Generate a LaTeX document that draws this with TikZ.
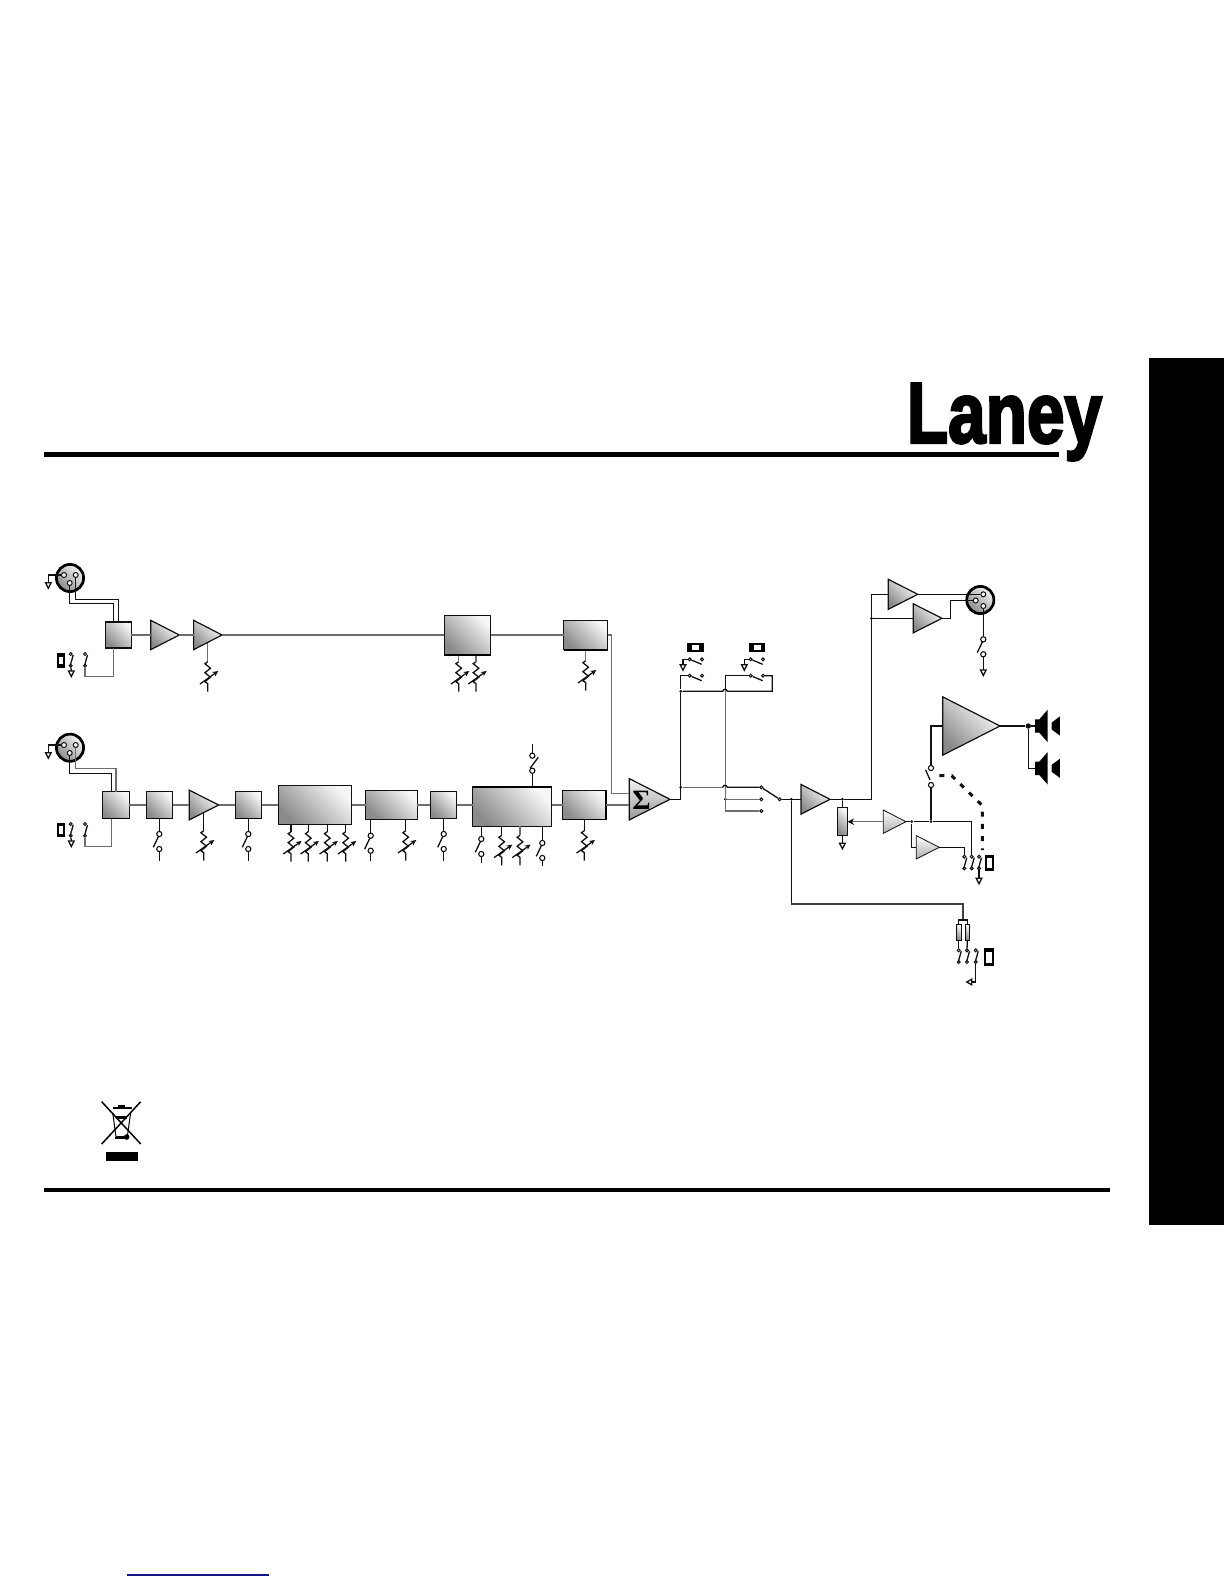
\documentclass[tikz,border=0pt]{standalone}
\usepackage{xcolor}
\usepackage{fontspec}
\newfontfamily\logofont[FakeBold=3.2]{Liberation Sans Bold}
\newfontfamily\signfont{Liberation Serif Bold}
\definecolor{cWire}{HTML}{111111}
\definecolor{cSoft}{HTML}{6E6E6E}
\definecolor{cLight}{HTML}{F6F6F6}
\definecolor{cDark}{HTML}{8A8A8A}
\definecolor{cLink}{HTML}{14148C}
\usetikzlibrary{arrows.meta,shapes.geometric,backgrounds}
\tikzset{
  wire/.style={draw=cWire,line width=.65pt},
  wire-soft/.style={draw=cSoft,line width=.7pt},
  wire-bus/.style={draw=cSoft,line width=.95pt},
  wire-link/.style={draw=cWire,line width=1.5pt,dash pattern=on 2.5pt off 3.6pt},
  node-box/.style 2 args={draw=cWire,line width=.6pt,rectangle,inner sep=0,outer sep=0,
    minimum width=#1*.5pt,minimum height=#2*.5pt,
    bottom color=cDark,top color=cLight,shading angle=-45},
  node-amp/.style 2 args={draw=cWire,line width=.6pt,isosceles triangle,
    isosceles triangle stretches,shape border rotate=0,inner sep=0,outer sep=0,anchor=apex,
    minimum height=#1*.5pt,minimum width=#2*.5pt,
    bottom color=cDark,top color=white,shading angle=-45},
  node-xlr/.style={draw=black,line width=1.35pt,circle,inner sep=0,minimum size=13.6pt,
    bottom color=cDark,top color=cLight,shading angle=-45},
  node-pin/.style={draw=cWire,line width=.5pt,circle,inner sep=0,minimum size=2.5pt,fill=cLight},
  node-tip/.style={draw=cWire,line width=.5pt,circle,inner sep=0,minimum size=1.5pt,fill=white},
  node-post/.style={draw=cWire,line width=.55pt,circle,inner sep=0,minimum size=2.6pt,fill=white},
  node-dot/.style={fill=cWire,circle,inner sep=0,minimum size=1.5pt},
  potsym/.pic={
    \coordinate (-top) at (0,0);
    \draw[wire] (0,0) -- (-2.8,2) -- (2.8,6.5) -- (-2.8,11) -- (2.8,15.5) -- (-2.8,20) -- (0,22) -- (0,30);
    \draw[wire,-{Stealth[length=2.8pt,width=2.6pt]}] (-7.7,22.3) -- (10.6,9.3);
  },
  swv/.pic={
    \node[node-post] (-a) at (0,0) {};
    \node[node-post] (-b) at (0,15) {};
    \draw[wire] (-6,13.3) -- (-1,2.7);
    \coordinate (-end) at (0,#1);
    \draw[wire] (-b) -- (-end);
  },
  tsw/.pic={
    \node[node-tip] (-a) at (0,0) {};
    \node[node-tip] (-b) at (0,11.7) {};
    \draw[wire] (2.5,1) -- (-.5,11.7);
  },
  hsw/.pic={
    \node[node-tip] (-a) at (0,0) {};
    \node[node-tip] (-b) at (12.3,0) {};
    \draw[wire] (-a) -- (12,5);
  },
  gnd/.pic={
    \coordinate (-top) at (0,0);
    \draw[wire,fill=white] (-2.8,0) -- (2.8,0) -- (0,5.5) -- cycle;
  },
  gndl/.pic={
    \coordinate (-top) at (0,0);
    \draw[wire,fill=white] (0,-2.8) -- (0,2.8) -- (-5,0) -- cycle;
  },
  speaker/.pic={
    \coordinate (-in) at (0,0);
    \fill[black] (0,-6.7) -- (4.3,-6.7) -- (12.7,-16.3) -- (12.7,16.3) -- (4.3,6.7) -- (0,6.7) -- cycle;
    \fill[black] (16.7,-3.5) -- (24.8,-9.5) -- (24.8,9.5) -- (16.7,3.5) -- cycle;
  },
}
\begin{document}
\begin{tikzpicture}[x=.5pt,y=-.5pt]
  \useasboundingbox (0,0) rectangle (1224,1584);
  % page furniture
  \fill[black] (1149,357.5) rectangle (1224,1225);
  \fill[black] (44,452.4) rectangle (1059,457);
  \fill[black] (44,1188) rectangle (1110,1192);
  \node[inner sep=0,anchor=base west] (brand) at (906.5,442.7) {\scalebox{.785}[1]{\logofont\fontsize{43}{43}\selectfont Laney}};
  \draw[draw=cLink,line width=.55pt] (127,1575) -- (269,1575);

  % first channel
  \node[node-xlr] (xa) at (70,578) {};
  \node[node-pin] (xa1) at (64,575) {};
  \node[node-pin] (xa2) at (69.7,583) {};
  \node[node-pin] (xa3) at (75.7,575) {};
  \node[node-box={25.6}{26}] (ina) at (118.5,635) {};
  \node[node-amp={28.6}{29.4}] (ampa1) at (179.3,635) {};
  \node[node-amp={28.4}{29.4}] (ampa2) at (222,635) {};
  \node[node-box={46.4}{39.7}] (eqa) at (467.5,635) {};
  \node[node-box={44}{29.7}] (mas) at (585.7,635) {};
  \pic (gxa) at (48.3,582.7) {gnd};
  \pic (swa1) at (70.7,654) {tsw};
  \pic (swa2) at (85,654) {tsw};
  \pic (gsa) at (71.3,671) {gnd};
  \pic (pa1) at (207.7,661.7) {potsym};
  \pic (pa2) at (458.7,661.7) {potsym};
  \pic (pa3) at (476,661.7) {potsym};
  \pic (pa4) at (585.7,660.7) {potsym};
  \coordinate (busa1) at (118.3,599.3);
  \coordinate (busa2) at (113.7,603.7);
  \coordinate (cora) at (113.7,676.7);
  \draw[wire] (xa1) -| (gxa-top);
  \draw[wire] (xa3) |- (busa1) -- (ina.north -| busa1);
  \draw[wire] (xa2) |- (busa2) -- (ina.north -| busa2);
  \draw[wire-soft] (ina.south -| cora) -- (cora) -| (swa2-b);
  \draw[wire] (swa1-b) -- (gsa-top);
  \draw[wire-soft] (ina) -- (ampa1.lower side);
  \draw[wire-soft] (ampa1.apex) -- (ampa2.lower side);
  \draw[wire-soft] (ampa2.apex) -- (eqa);
  \draw[wire-soft] (eqa) -- (mas);
  \draw[wire-soft] (eqa.south -| pa2-top) -- (pa2-top);
  \draw[wire-soft] (eqa.south -| pa3-top) -- (pa3-top);
  \draw[wire-soft] (mas.south -| pa4-top) -- (pa4-top);

  % second channel
  \node[node-xlr] (xb) at (70,747.7) {};
  \node[node-pin] (xb1) at (64,745) {};
  \node[node-pin] (xb2) at (69.7,753) {};
  \node[node-pin] (xb3) at (75.7,745) {};
  \node[node-box={27}{27}] (inb) at (115.8,805) {};
  \node[node-box={26.4}{27}] (hpf) at (159.5,805) {};
  \node[node-amp={29.4}{29.7}] (ampb) at (218.7,805) {};
  \node[node-box={26.4}{27}] (ins) at (248.5,805) {};
  \node[node-box={73.4}{39.4}] (eqb) at (315,805) {};
  \node[node-box={51.6}{29}] (cmp) at (391.5,805) {};
  \node[node-box={26.4}{27}] (fxs) at (443.5,805) {};
  \node[node-box={79}{39.6}] (dsp) at (512.2,806.5) {};
  \node[node-box={43.6}{29}] (lev) at (584.5,805) {};
  \pic (gxb) at (48.3,752.7) {gnd};
  \pic (swb1) at (70.7,824) {tsw};
  \pic (swb2) at (85,824) {tsw};
  \pic (gsb) at (71.3,841) {gnd};
  \pic (shp) at (159.3,834) {swv=26.7};
  \pic (sin) at (248.3,834) {swv=26.7};
  \pic (scm) at (370.7,835.7) {swv=25};
  \pic (sfx) at (443.7,834) {swv=26.7};
  \pic (sd1) at (481.3,839) {swv=23.7};
  \pic (sd2) at (542.3,843) {swv=23};
  \pic (pb) at (203.7,830.7) {potsym};
  \foreach \n/\x in {1/291,2/308.3,3/327.3,4/345.7}
    \pic (pe\n) at (\x,831.7) {potsym};
  \pic (pc) at (405.7,830.7) {potsym};
  \pic (pd1) at (501.7,835.3) {potsym};
  \pic (pd2) at (520,835.3) {potsym};
  \pic (pl) at (584.3,830.7) {potsym};
  \node[node-post] (st1) at (532.3,755.7) {};
  \node[node-post] (st2) at (532.3,770.7) {};
  \coordinate (stop) at (532.3,744);
  \coordinate (busb1) at (116,768.7);
  \coordinate (busb2) at (111.7,773.3);
  \coordinate (corb) at (111.3,846.7);
  \draw[wire] (xb1) -| (gxb-top);
  \draw[wire-soft] (xb3) |- (busb1) -- (inb.north -| busb1);
  \draw[wire] (xb2) |- (busb2) -- (inb.north -| busb2);
  \draw[wire-soft] (inb.south -| corb) -- (corb) -| (swb2-b);
  \draw[wire] (swb1-b) -- (gsb-top);
  \draw[wire-soft] (inb) -- (hpf);
  \draw[wire-soft] (hpf) -- (ampb.lower side);
  \draw[wire-soft] (ampb.apex) -- (ins);
  \draw[wire-soft] (ins) -- (eqb);
  \draw[wire-bus] (eqb) -- (cmp);
  \draw[wire-bus] (cmp) -- (fxs);
  \draw[wire-bus] (fxs) -- (fxs -| dsp.west);
  \draw[wire-soft] (dsp.east |- lev) -- (lev);
  \draw[wire] (stop) -- (st1);
  \draw[wire] (st2) -- (dsp.north -| st2);
  \draw[wire] (530,768.3) -- (538.3,757.3);
  \draw[wire] (hpf.south -| shp-a) -- (shp-a);
  \draw[wire] (ins.south -| sin-a) -- (sin-a);
  \draw[wire] (cmp.south -| scm-a) -- (scm-a);
  \draw[wire] (fxs.south -| sfx-a) -- (sfx-a);
  \draw[wire] (dsp.south -| sd1-a) -- (sd1-a);
  \draw[wire] (dsp.south -| sd2-a) -- (sd2-a);
  \foreach \n in {1,2,3,4}
    \draw[wire] (eqb.south -| pe\n-top) -- (pe\n-top);
  \draw[wire] (cmp.south -| pc-top) -- (pc-top);
  \draw[wire] (dsp.south -| pd1-top) -- (pd1-top);
  \draw[wire-soft] (dsp.south -| pd2-top) -- (pd2-top);
  \draw[wire] (lev.south -| pl-top) -- (pl-top);
  \begin{scope}[on background layer]
    \draw[wire-soft] (pa1-top |- ampa2.apex) -- (pa1-top);
    \draw[wire] (pb-top |- ampb.apex) -- (pb-top);
  \end{scope}
  \foreach \b in {inb,hpf,ins,eqa,mas,lev}
    \draw[black,line width=.9pt] (\b.south west) -- (\b.south east);
  \draw[black,line width=.9pt] (lev.north east) -- (lev.south east);
  \draw[black,line width=.9pt] (dsp.north west) -- (dsp.north east);

  % mixing and switching
  \node[node-amp={40.7}{41.3},top color=cLight,bottom color=cDark!90] (sumamp) at (670,799.3) {};
  \node[inner sep=0] (sumsign) at (641.5,800) {\signfont\fontsize{14}{14}\selectfont Σ};
  \coordinate (sumin) at (629.3,793.3);
  \draw[wire-soft] (mas.east) -- ++(4,0) |- (sumin);
  \draw[wire-bus] (lev) -- (lev -| sumamp.lower side);
  \node[node-dot] (dhi) at (680.7,691.3) {};
  \node[node-dot] (dlo) at (680.7,787.3) {};
  \pic (swl1) at (689.7,659.3) {hsw};
  \pic (swl2) at (689.7,675.7) {hsw};
  \pic (swr1) at (750.7,659.3) {hsw};
  \pic (swr2) at (750.7,675.7) {hsw};
  \pic (gl) at (683,664.7) {gnd};
  \pic (gr) at (744.3,664.7) {gnd};
  \coordinate (hopa) at (722.7,691.3);
  \coordinate (hopb) at (727.3,691.3);
  \coordinate (hopc) at (722.7,787.3);
  \coordinate (hopd) at (727.3,787.3);
  \coordinate (loopr) at (772.3,691.3);
  \coordinate (busm) at (725.3,689.5);
  \coordinate (buse) at (725.3,811);
  \node[node-dot] (djc) at (725.3,799.3) {};
  \node[node-tip] (sc1) at (761.3,787.3) {};
  \node[node-tip] (sc2) at (761.3,799.3) {};
  \node[node-tip] (sc3) at (761.3,811) {};
  \node[node-tip] (sel) at (779.7,799.3) {};
  \draw[wire] (sumamp.apex) -| (dlo.center) -- (dhi);
  \draw[wire] (dhi) |- (swl2-a);
  \draw[wire] (swl1-a) -| (gl-top);
  \draw[wire] (swr1-a) -| (gr-top);
  \draw[wire] (dhi) -- (hopa) .. controls (723.5,688.6) and (726.5,688.6) .. (hopb) -- (loopr) |- (swr2-b);
  \draw[wire] (swr2-a) -| (busm);
  \draw[wire-soft] (busm) -- (buse) -- (sc3);
  \draw[wire-soft] (dlo) -- (hopc);
  \draw[wire] (hopc) .. controls (723.5,784.6) and (726.5,784.6) .. (hopd) -- (sc1);
  \draw[wire-soft] (djc) -- (sc2);
  \draw[wire] (sc1) -- (sel);

  % output stages
  \node[node-amp={29}{29.7}] (selamp) at (830,799.3) {};
  \node[node-box={10.4}{28}] (volpot) at (842.4,821.7) {};
  \node[node-dot] (dfb) at (791.3,799.3) {};
  \node[node-dot] (dvol) at (842.4,799.3) {};
  \node[node-dot] (dc) at (871.5,618.3) {};
  \pic (gv) at (842.4,843.3) {gnd};
  \draw[wire] (sel) -- (selamp.lower side);
  \draw[wire] (selamp.apex) -- (dvol);
  \draw[wire] (dvol) -- (volpot);
  \draw[wire] (volpot) -- (gv-top);
  \node[node-amp={29.4}{30}] (ampc1) at (917.7,594.3) {};
  \node[node-amp={28.7}{29}] (ampc2) at (942,618.3) {};
  \node[node-xlr] (xc) at (980.3,600) {};
  \node[node-pin] (xc1) at (983.3,594.3) {};
  \node[node-pin] (xc2) at (975.7,600.5) {};
  \node[node-pin] (xc3) at (983.3,606) {};
  \pic (swx) at (983.3,639.3) {swv=30.7};
  \pic (gx) at (983.3,670) {gnd};
  \coordinate (ctap) at (871.5,594.3);
  \draw[wire] (dvol) -| (ctap) -- (ampc1.lower side);
  \draw[wire] (dc) -- (ampc2.lower side);
  \draw[wire] (ampc1.apex) -- (xc1);
  \draw[wire] (ampc2.apex) -- ++(8.3,0) |- (xc2);
  \draw[wire] (xc3) -- (swx-a);

  % power amp and send stages
  \node[node-amp={57.3}{58.3}] (ampm) at (1000,726) {};
  \node[node-dot,minimum size=2.7pt] (dspk) at (1028.3,726) {};
  \pic (spk1) at (1035,726) {speaker};
  \pic (spk2) at (1035,768.3) {speaker};
  \node[node-post] (swm1) at (931,768) {};
  \node[node-post] (swm2) at (931,785) {};
  \node[node-amp={22.7}{23.3},line width=.4pt,bottom color=cDark!70] (amps1) at (906,821.7) {};
  \node[node-amp={23}{23.3},line width=.4pt,bottom color=cDark!70] (amps2) at (939.3,847.3) {};
  \node[node-dot] (dsa) at (911.7,821.7) {};
  \node[node-dot] (dsb) at (931,821.7) {};
  \pic (sws1) at (964.3,856.7) {tsw};
  \pic (sws2) at (971.7,856.7) {tsw};
  \pic (sws3) at (979,856.7) {tsw};
  \pic (gs) at (979,878.3) {gnd};
  \coordinate (lnka) at (939.3,775.7);
  \coordinate (lnkb) at (951.7,775.7);
  \coordinate (lnkc) at (981.7,805);
  \coordinate (lnkd) at (982.3,813);
  \coordinate (lnke) at (982.3,850);
  \draw[wire] (ampm.apex) -- (dspk);
  \draw[wire] (dspk) -- (spk1-in);
  \draw[wire] (dspk) |- (spk2-in);
  \draw[wire] (ampm.lower side) -| (swm1);
  \draw[wire] (925.7,770) -- (930,780);
  \draw[wire-link] (lnka) -- (lnkb) -- (lnkc) -- (lnkd) -- (lnke);
  \draw[wire] (swm2) -- (dsb);
  \draw[wire-soft,-{Stealth[length=3.2pt,width=3.2pt,color=black,fill=black]}] (amps1.lower side) -- (volpot.east);
  \draw[wire] (amps1.apex) -- (dsa);
  \draw[wire] (dsa) -- (dsb);
  \draw[wire] (dsb) -| (sws2-a);
  \coordinate (dsc) at (911.7,847.3);
  \draw[wire] (dsa) -- (dsc) -- (amps2.lower side);
  \draw[wire] (amps2.apex) -| (sws1-a);
  \draw[wire] (sws3-b) -- (gs-top);

  % headphone feed
  \node[node-box={4.7}{15.7},line width=.5pt] (ra) at (958.7,932.8) {};
  \node[node-box={4.4}{15.7},line width=.5pt] (rb) at (967.5,932.8) {};
  \coordinate (frk) at (963.3,920);
  \coordinate (fdc) at (791.3,904);
  \coordinate (fde) at (963.3,904);
  \pic (swd1) at (958.7,950.3) {tsw};
  \pic (swd2) at (967,950.3) {tsw};
  \pic (swd3) at (975.7,950.3) {tsw};
  \pic (gd) at (971.7,982) {gndl};
  \draw[wire] (dfb) -- (fdc);
  \draw[wire-bus,draw=cWire!80] (fdc) -- (fde) -- (frk);
  \draw[wire] (frk) -| (ra.north);
  \draw[wire] (frk) -| (rb.north);
  \draw[wire] (ra) -- (swd1-a);
  \draw[wire] (rb) -- (swd2-a);
  \draw[wire] (swd3-b) |- (gd-top);

  % switch marks
  \foreach \n/\x/\y/\w/\h/\iw/\ih in {
      a/61/660.5/7.4/14.5/4.2/7.4, b/61/830/7.4/14.5/4.2/7.4,
      c/695.4/647.5/16.6/8.7/7/5, d/757/647.5/16/8.7/7/5,
      e/989.7/863/8.7/15.4/4.7/9.3, f/989/957/10/17.4/6/11}{
    \node[fill=black,inner sep=0,minimum width=\w*.5pt,minimum height=\h*.5pt] (mk\n) at (\x,\y) {};
    \node[fill=white,inner sep=0,minimum width=\iw*.5pt,minimum height=\ih*.5pt] (mki\n) at (\x,\y) {};
  }

  % disposal mark
  \draw[black,line width=.75pt] (101.7,1101.7) -- (140.7,1144) (140.7,1101.7) -- (101.7,1144);
  \draw[black,line width=.5pt] (112.7,1112.7) -- (116,1136.7) -- (127.3,1136.7) -- (130.7,1112.7);
  \fill[black] (112.7,1106.7) rectangle (131.7,1109);
  \fill[black] (118,1104.5) rectangle (125,1107);
  \fill[black] (116,1116) rectangle (127,1119);
  \fill[black] (115.3,1137.2) rectangle (126.7,1139.4);
  \fill[black] (126.7,1137) circle (2.8);
  \fill[black] (106,1152.3) rectangle (137.7,1161);
\end{tikzpicture}
\end{document}
